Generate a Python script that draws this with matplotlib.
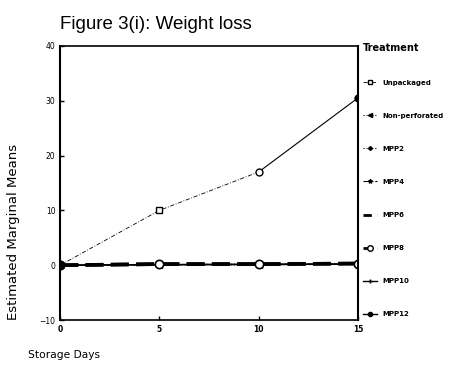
import matplotlib
matplotlib.use('Agg')
import matplotlib.pyplot as plt
from matplotlib.lines import Line2D

days = [0, 5, 10, 15]
unpackaged = [0, 10, 17, 30.5]
non_perforated = [0, 0.1, 0.1, 0.2]
mpp2 = [0, 0.1, 0.1, 0.2]
mpp4 = [0, 0.1, 0.2, 0.2]
mpp6 = [0, 0.2, 0.2, 0.3]
mpp8 = [0, 0.2, 0.2, 0.3]
mpp10 = [0, 0.1, 0.2, 0.2]
mpp12 = [0, 0.1, 0.1, 0.2]

fig = plt.figure(figsize=(4.63, 3.73), dpi=100)
ax = fig.add_axes([0.13, 0.142, 0.643, 0.735])

# near-zero series (all overlap)
ax.plot(days, non_perforated, ':', color='k', lw=0.8, marker='<', ms=4)
ax.plot(days, mpp2, ':', color='k', lw=0.8, marker='D', ms=2.5)
ax.plot(days, mpp4, '-.', color='k', lw=0.8, marker='*', ms=3)
ax.plot(days, mpp10, '-', color='k', lw=1.0, marker='+', ms=4)
ax.plot(days, mpp12, '-', color='k', lw=1.0, marker='o', ms=4)
ax.plot(days, mpp6, color='k', lw=2.6, dashes=(5, 2))
ax.plot(days, mpp8, color='k', lw=2.6, dashes=(5, 2), marker='o', ms=6,
        mfc='white', mec='k', mew=1.2)
ax.plot(days[:1], mpp12[:1], 'o', color='k', ms=6)

# unpackaged
ax.plot(days[:3], unpackaged[:3], color='k', lw=0.6, dashes=(5, 2, 1, 2))
ax.plot(days[2:], unpackaged[2:], color='k', lw=0.8)
ax.plot(days[1:2], unpackaged[1:2], 's', ms=4, mfc='white', mec='k')
ax.plot(days[2:3], unpackaged[2:3], 'o', ms=5, mfc='white', mec='k')
ax.plot(days[3:], unpackaged[3:], 'o', ms=5, color='k')

ax.set_xlim(0, 15)
ax.set_ylim(-10, 40)
ax.set_xticks(days)
ax.set_yticks([-10, 0, 10, 20, 30, 40])
ax.tick_params(labelsize=5.5, length=3, width=1, direction='in')
for lab in ax.get_xticklabels():
    lab.set_fontweight('bold')
for s in ax.spines.values():
    s.set_linewidth(1.2)
ax.spines['left'].set_linewidth(1.5)
ax.spines['right'].set_linewidth(1.5)

fig.text(0.13, 0.935, 'Figure 3(i): Weight loss', fontsize=13.5,
         ha='left', va='center', family='Liberation Sans')
fig.text(0.06, 0.048, 'Storage Days', fontsize=7.7, ha='left', va='center')
fig.text(0.03, 0.378, 'Estimated Marginal Means', fontsize=9.5, rotation=90,
         ha='center', va='center')

handles = [
    Line2D([], [], color='k', lw=0.6, dashes=(5, 2, 1, 2), marker='s', ms=3, mfc='white'),
    Line2D([], [], color='k', lw=0.8, ls=':', marker='<', ms=3),
    Line2D([], [], color='k', lw=0.8, ls=':', marker='D', ms=2),
    Line2D([], [], color='k', lw=0.8, ls='-.', marker='*', ms=3),
    Line2D([], [], color='k', lw=2, dashes=(3, 2)),
    Line2D([], [], color='k', lw=2, dashes=(3, 2), marker='o', ms=4, mfc='white'),
    Line2D([], [], color='k', lw=1, marker='+', ms=3),
    Line2D([], [], color='k', lw=1, marker='o', ms=3),
]
labels = ['Unpackaged', 'Non-perforated', 'MPP2', 'MPP4', 'MPP6', 'MPP8',
          'MPP10', 'MPP12']
leg = ax.legend(handles, labels, title='Treatment', loc='upper left',
                bbox_to_anchor=(1.0, 1.03), frameon=False, fontsize=5,
                handlelength=2, labelspacing=3.9, borderaxespad=0.3)
leg.get_title().set_fontweight('bold')
leg.get_title().set_fontsize(7)
leg._legend_box.align = 'left'
for t in leg.get_texts():
    t.set_fontweight('bold')

fig.savefig('out.png', dpi=100)
